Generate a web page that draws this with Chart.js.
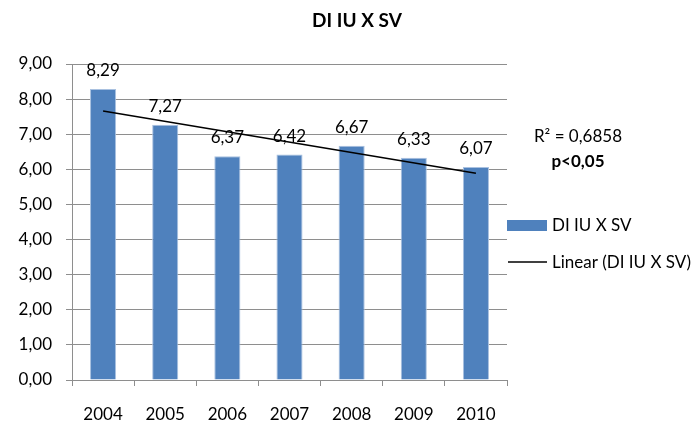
<!DOCTYPE html>
<html>
<head>
<meta charset="utf-8">
<script src="https://cdn.jsdelivr.net/npm/chart.js@4/dist/chart.umd.min.js"></script>
<style>
  html, body { margin: 0; padding: 0; background: #fff; }
  #wrap { width: 700px; height: 421px; }
</style>
</head>
<body>
<div id="wrap"><canvas id="chart"></canvas></div>
<script>
// данные
const years = ["2004", "2005", "2006", "2007", "2008", "2009", "2010"];
const values = [8.29, 7.27, 6.37, 6.42, 6.67, 6.33, 6.07];
// линия тренда: начало и конец, как на рисунке
const trendValues = [7.66, null, null, null, null, null, 5.89];
const titleText = "DI IU X SV";
const seriesName = "DI IU X SV";
const trendName = "Linear (DI IU X SV)";
const r2Text = "R\u00b2 = 0,6858";
const pText = "p<0,05";

const FONT = "Lato, 'Open Sans', sans-serif";
const BLUE = "#4f81bd";
const GRID = "#8e8e8e";

const fmt = v => v.toFixed(2).replace(".", ",");

// подписи значений над столбцами
const valueLabels = {
  id: "valueLabels",
  afterDatasetsDraw(chart) {
    const { ctx } = chart;
    const meta = chart.getDatasetMeta(1);
    ctx.save();
    ctx.font = "17px " + FONT;
    ctx.fillStyle = "#000";
    ctx.textAlign = "center";
    ctx.textBaseline = "alphabetic";
    meta.data.forEach((bar, i) => {
      ctx.fillText(fmt(values[i]), bar.x, bar.y - 13);
    });
    ctx.restore();
  }
};

// заголовок, легенда справа и R²
const sideNotes = {
  id: "sideNotes",
  afterDraw(chart) {
    const { ctx } = chart;
    ctx.save();
    ctx.fillStyle = "#000";
    ctx.textBaseline = "middle";
    ctx.textAlign = "center";
    ctx.font = "bold 19px " + FONT;
    ctx.fillText(titleText, 357, 21);

    ctx.font = "17px " + FONT;
    ctx.fillText(r2Text, 578, 137);
    ctx.font = "bold 17px " + FONT;
    ctx.fillText(pText, 578, 162);

    ctx.fillStyle = BLUE;
    ctx.fillRect(507, 220, 40, 11);
    ctx.strokeStyle = "#000";
    ctx.lineWidth = 1.5;
    ctx.beginPath();
    ctx.moveTo(508, 262);
    ctx.lineTo(547, 262);
    ctx.stroke();

    ctx.fillStyle = "#000";
    ctx.textAlign = "left";
    ctx.font = "17px " + FONT;
    ctx.fillText(seriesName, 552, 226);
    ctx.fillText(trendName, 552, 263);
    ctx.restore();
  }
};

new Chart(document.getElementById("chart"), {
  type: "bar",
  data: {
    labels: years,
    datasets: [
      {
        type: "line",
        label: trendName,
        data: trendValues,
        spanGaps: true,
        borderColor: "#000",
        borderWidth: 1.5,
        pointRadius: 0,
        fill: false,
        order: 0
      },
      {
        label: seriesName,
        data: values,
        backgroundColor: BLUE,
        borderColor: "#a9c1e0",
        borderWidth: 1,
        barPercentage: 0.42,
        categoryPercentage: 1,
        order: 1
      }
    ]
  },
  options: {
    responsive: true,
    maintainAspectRatio: false,
    animation: false,
    layout: { padding: { left: 0, right: 193, top: 64, bottom: 0 } },
    plugins: {
      legend: { display: false },
      tooltip: { enabled: false },
      title: { display: false }
    },
    scales: {
      x: {
        afterFit: s => { s.height = 41; },
        grid: {
          drawOnChartArea: false,
          drawTicks: true,
          tickLength: 6,
          color: GRID
        },
        border: { color: GRID, width: 1 },
        ticks: {
          color: "#000",
          padding: 18,
          maxRotation: 0,
          font: { family: FONT, size: 17 }
        }
      },
      y: {
        min: 0,
        max: 9,
        afterFit: s => { s.width = 72; },
        grid: { color: GRID, tickLength: 6 },
        border: { color: GRID, width: 1 },
        ticks: {
          stepSize: 1,
          color: "#000",
          padding: 14,
          font: { family: FONT, size: 17 },
          callback: v => fmt(v)
        }
      }
    }
  },
  plugins: [valueLabels, sideNotes]
});
</script>
</body>
</html>
